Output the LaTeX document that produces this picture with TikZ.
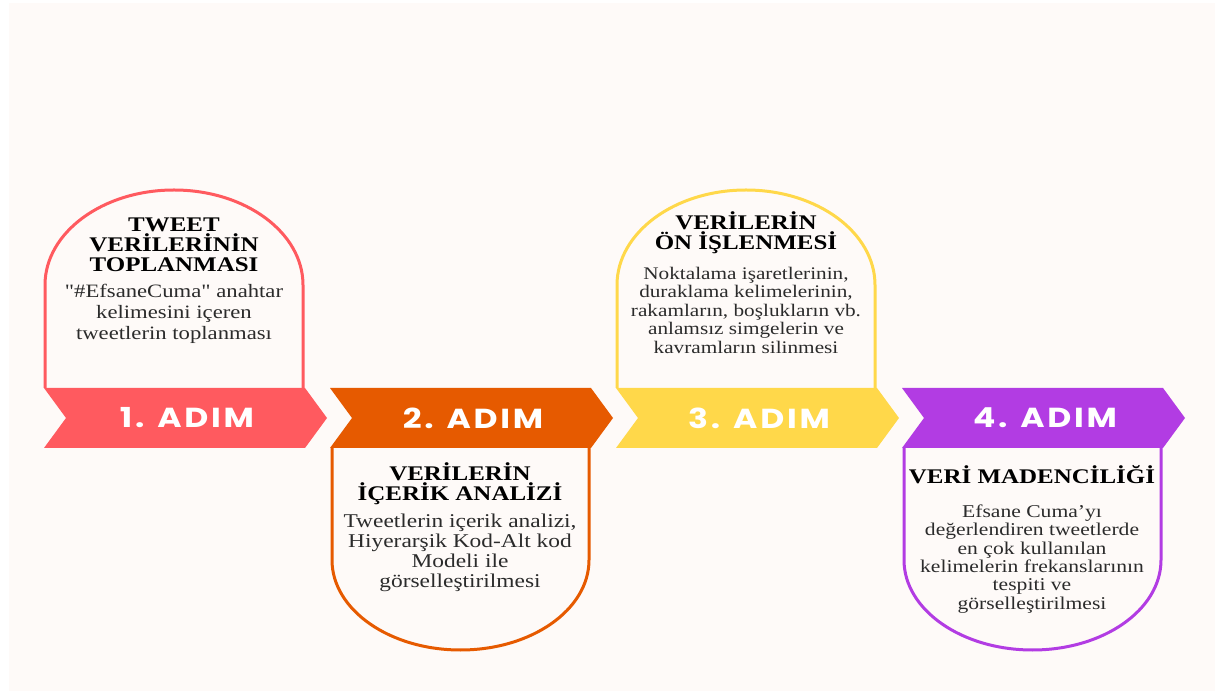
\documentclass[tikz,border=0pt]{standalone}
\usepackage{fontspec}
\setmainfont{Liberation Serif}[FakeStretch=1.2]
\newfontfamily\quotefont{Liberation Serif}[FakeStretch=1.2, Ligatures=TeXOff]
\newfontfamily\adimfont{Poppins}[LetterSpace=10, FakeStretch=1.2]
\usepackage{xcolor}
\usepackage{tikz}
\usetikzlibrary{calc,positioning}
\definecolor{paper}{HTML}{FEFAF8}
\definecolor{stepred}{HTML}{FF5A5F}
\definecolor{steporange}{HTML}{E65A00}
\definecolor{stepyellow}{HTML}{FFD84A}
\definecolor{steppurple}{HTML}{B23CE3}
\definecolor{bodytext}{HTML}{2B2B2B}
\newcommand{\BodyFont}[2]{\fontsize{#1}{#2}\selectfont}
\newcommand{\StraightQuote}{{\quotefont"}}
\tikzset{
  StepCard/.style={draw=#1, line width=3pt, fill=paper},
  StepLabel/.style={text=white, inner sep=0pt,
    font=\adimfont\bfseries\fontsize{27.5}{30}\selectfont},
  CardTitle/.style={align=center, inner sep=0pt, text=black,
    font=\bfseries\BodyFont{20.8}{20}},
  CardBody/.style={align=center, inner sep=0pt, text=bodytext}
}
\newcommand{\StepChevron}[4]{%
  % #1 = left x, #2 = colour, #3 = node name, #4 = label
  \fill[#2] (#1,303) -- ++(261,0) -- ++(22,-30) -- ++(-22,-30)
    -- ++(-261,0) -- ++(22,30) -- cycle;
  \node[StepLabel] (#3) at (#1+143,273) {#4};
}

\begin{document}
\begin{tikzpicture}[x=1pt, y=1pt, line join=round]
  % page and background
  \useasboundingbox (0,0) rectangle (1215,691);
  \fill[white] (0,0) rectangle (1215,691);
  \fill[paper] (9,0) rectangle (1215,688);

  % cards
  \draw[StepCard=stepred] (45,303) -- (45,406)
    arc[start angle=180, end angle=0, x radius=129, y radius=95] -- (303,303);
  \draw[StepCard=steporange] (332,243) -- (332,131)
    arc[start angle=180, end angle=360, x radius=128.5, y radius=90] -- (589,243);
  \draw[StepCard=stepyellow] (617,303) -- (617,406)
    arc[start angle=180, end angle=0, x radius=129, y radius=95] -- (875,303);
  \draw[StepCard=steppurple] (904,243) -- (904,131)
    arc[start angle=180, end angle=360, x radius=128.5, y radius=90] -- (1161,243);

  % band of steps
  \StepChevron{44}{stepred}{adim1}{1. ADIM}
  \StepChevron{330}{steporange}{adim2}{2. ADIM}
  \StepChevron{616}{stepyellow}{adim3}{3. ADIM}
  \StepChevron{902}{steppurple}{adim4}{4. ADIM}

  % texts
  \node[CardTitle] (title1) at (174,446) {TWEET\\VERİLERİNİN\\TOPLANMASI};
  \node[CardBody, font=\BodyFont{18.9}{21}] (body1) at (174,377)
    {\StraightQuote\#EfsaneCuma\StraightQuote{} anahtar\\kelimesini içeren\\tweetlerin toplanması};

  \node[CardTitle] (title2) at (460,207) {VERİLERİN\\İÇERİK ANALİZİ};
  \node[CardBody, font=\BodyFont{19.5}{20}] (body2) at (460,138)
    {Tweetlerin içerik analizi,\\Hiyerarşik Kod-Alt kod\\Modeli ile\\görselleştirilmesi};

  \node[CardTitle] (title3) at (746,458) {VERİLERİN\\ÖN İŞLENMESİ};
  \node[CardBody, font=\BodyFont{17.7}{18.5}] (body3) at (746,381)
    {Noktalama işaretlerinin,\\duraklama kelimelerinin,\\rakamların, boşlukların vb.\\anlamsız simgelerin ve\\kavramların silinmesi};

  \node[CardTitle] (title4) at (1032,216) {VERİ MADENCİLİĞİ};
  \node[CardBody, font=\BodyFont{18}{18.4}] (body4) at (1032,132)
    {Efsane Cuma’yı\\değerlendiren tweetlerde\\en çok kullanılan\\kelimelerin frekanslarının\\tespiti ve\\görselleştirilmesi};
\end{tikzpicture}
\end{document}
